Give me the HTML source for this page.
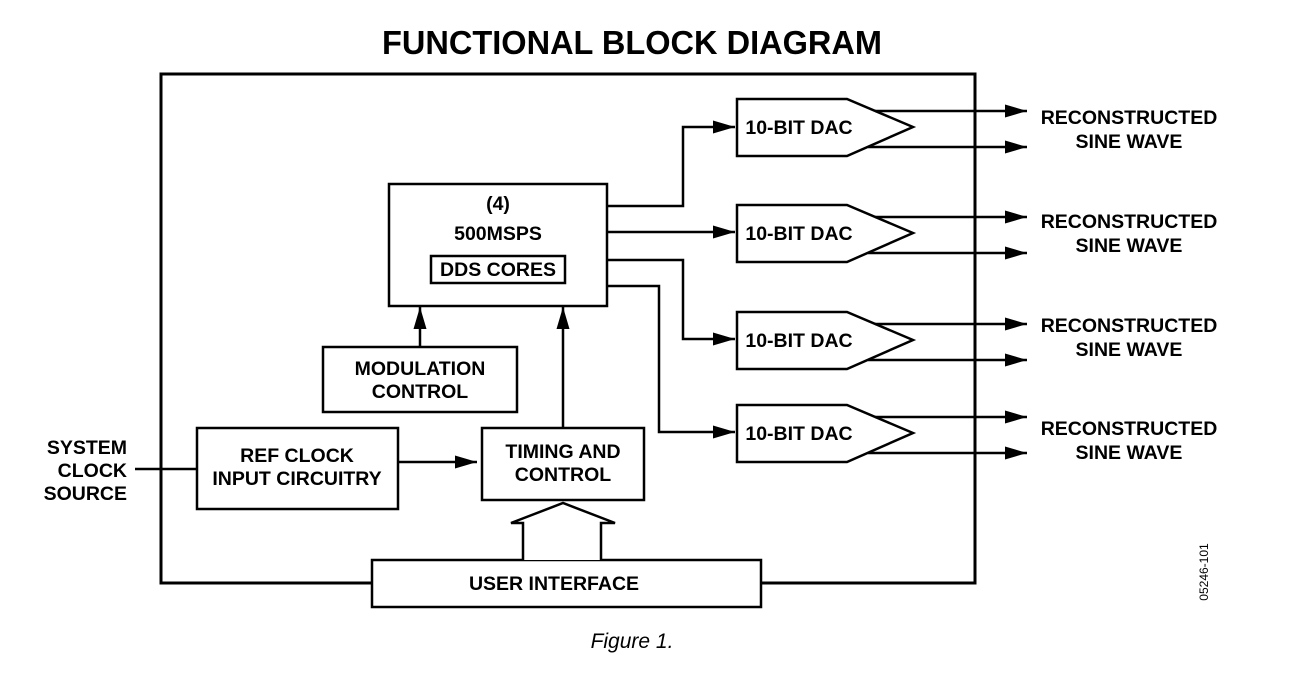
<!DOCTYPE html>
<html><head><meta charset="utf-8"><style>
html,body{margin:0;padding:0;background:#fff;}
svg{display:block;}
text{font-family:"Liberation Sans",Arial,sans-serif;font-weight:bold;fill:#000;}
</style></head><body>
<svg width="1290" height="690" viewBox="0 0 1290 690" xmlns="http://www.w3.org/2000/svg">
<defs>
<marker id="a" markerWidth="22" markerHeight="13" refX="22" refY="6.5" orient="auto" markerUnits="userSpaceOnUse">
<path d="M0,0 L22,6.5 L0,13 Z" fill="#000"/></marker>
</defs>
<text x="632" y="54" font-size="33" text-anchor="middle" textLength="500" lengthAdjust="spacingAndGlyphs">FUNCTIONAL BLOCK DIAGRAM</text>
<g fill="none" stroke="#000" stroke-width="3">
<path d="M372,583 L161,583 L161,74 L975,74 L975,583 L761,583"/>
</g>
<g fill="#fff" stroke="#000" stroke-width="2.5">
<rect x="389" y="184" width="218" height="122"/>
<rect x="431" y="256" width="134" height="27"/>
<rect x="323" y="347" width="194" height="65"/>
<rect x="482" y="428" width="162" height="72"/>
<rect x="197" y="428" width="201" height="81"/>
<rect x="372" y="560" width="389" height="47"/>
<path d="M737,99 L847,99 L913,127 L847,156 L737,156 Z"/>
<path d="M737,205 L847,205 L913,233 L847,262 L737,262 Z"/>
<path d="M737,312 L847,312 L913,340 L847,369 L737,369 Z"/>
<path d="M737,405 L847,405 L913,433 L847,462 L737,462 Z"/>
<path d="M523,560 L523,523 L511,523 L563,503 L615,523 L601,523 L601,560"/>
</g>
<g fill="none" stroke="#000" stroke-width="2.5">
<path d="M607,206 L683,206 L683,127 L735,127" marker-end="url(#a)"/>
<path d="M607,232 L735,232" marker-end="url(#a)"/>
<path d="M607,260 L683,260 L683,339 L735,339" marker-end="url(#a)"/>
<path d="M607,286 L659,286 L659,432 L735,432" marker-end="url(#a)"/>
<path d="M420,347 L420,307" marker-end="url(#a)"/>
<path d="M563,428 L563,307" marker-end="url(#a)"/>
<path d="M398,462 L477,462" marker-end="url(#a)"/>
<path d="M135,469 L197,469"/>
<path d="M875,111 L1027,111" marker-end="url(#a)"/>
<path d="M868,147 L1027,147" marker-end="url(#a)"/>
<path d="M875,217 L1027,217" marker-end="url(#a)"/>
<path d="M868,253 L1027,253" marker-end="url(#a)"/>
<path d="M875,324 L1027,324" marker-end="url(#a)"/>
<path d="M868,360 L1027,360" marker-end="url(#a)"/>
<path d="M875,417 L1027,417" marker-end="url(#a)"/>
<path d="M868,453 L1027,453" marker-end="url(#a)"/>
</g>
<g font-size="19.5" text-anchor="middle">
<text x="498" y="210">(4)</text>
<text x="498" y="240">500MSPS</text>
<text x="498" y="276">DDS CORES</text>
<text x="420" y="375">MODULATION</text>
<text x="420" y="398">CONTROL</text>
<text x="563" y="458">TIMING AND</text>
<text x="563" y="481">CONTROL</text>
<text x="297" y="462">REF CLOCK</text>
<text x="297" y="485">INPUT CIRCUITRY</text>
<text x="554" y="590">USER INTERFACE</text>
<text x="1129" y="124">RECONSTRUCTED</text><text x="1129" y="148">SINE WAVE</text>
<text x="1129" y="228">RECONSTRUCTED</text><text x="1129" y="252">SINE WAVE</text>
<text x="1129" y="332">RECONSTRUCTED</text><text x="1129" y="356">SINE WAVE</text>
<text x="1129" y="435">RECONSTRUCTED</text><text x="1129" y="459">SINE WAVE</text>
</g>
<g font-size="19.5">
<text x="799" y="134" text-anchor="middle">10-BIT DAC</text>
<text x="799" y="240" text-anchor="middle">10-BIT DAC</text>
<text x="799" y="347" text-anchor="middle">10-BIT DAC</text>
<text x="799" y="440" text-anchor="middle">10-BIT DAC</text>
</g>
<g font-size="19.5" text-anchor="end">
<text x="127" y="454">SYSTEM</text>
<text x="127" y="477">CLOCK</text>
<text x="127" y="500">SOURCE</text>
</g>
<text x="0" y="0" font-size="12" text-anchor="middle" style="font-weight:normal" transform="translate(1208,572) rotate(-90)">05246-101</text>
<text x="632" y="648" font-size="21" text-anchor="middle" style="font-weight:normal;font-style:italic">Figure 1.</text>
</svg>
</body></html>
